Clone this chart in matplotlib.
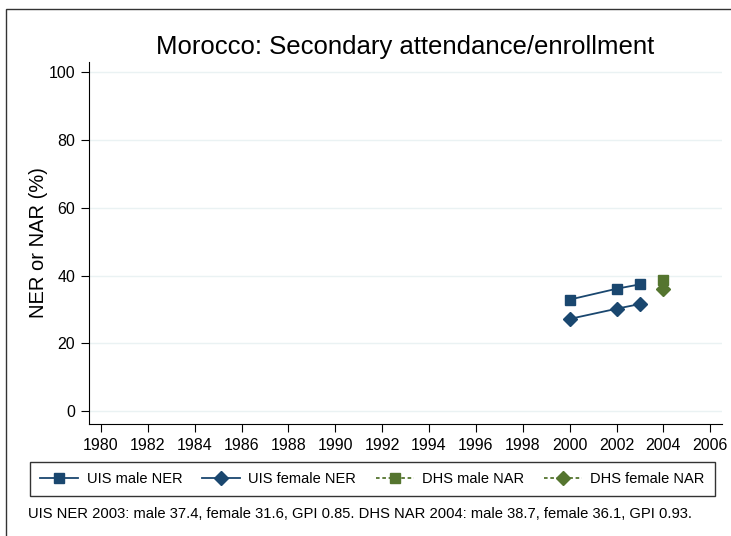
import matplotlib
matplotlib.use("Agg")
import matplotlib.pyplot as plt
from matplotlib.patches import Rectangle

plt.rcParams['font.family'] = ['Liberation Sans', 'DejaVu Sans']

# UIS net enrollment (NER) and DHS net attendance (NAR)
uis_years = [2000, 2002, 2003]
uis_male = [32.9, 36.1, 37.4]
uis_female = [27.2, 30.2, 31.6]
dhs_years = [2004]
dhs_male = [38.7]
dhs_female = [36.1]

x_ticks = list(range(1980, 2007, 2))
y_ticks = [0, 20, 40, 60, 80, 100]

navy = "#1a476f"
green = "#55752f"

fig = plt.figure(figsize=(7.31, 5.36), dpi=100)
ax = fig.add_axes([89 / 731, 1 - 424 / 536, (722 - 89) / 731, (424 - 62) / 536])

ax.plot(uis_years, uis_male, color=navy, marker="s", markersize=7, lw=1.3, label="UIS male NER")
ax.plot(uis_years, uis_female, color=navy, marker="D", markersize=7, lw=1.3, label="UIS female NER")
ax.plot(dhs_years, dhs_male, color=green, marker="s", markersize=7, lw=1.3, ls=(0, (2, 1.5)), label="DHS male NAR")
ax.plot(dhs_years, dhs_female, color=green, marker="D", markersize=7, lw=1.3, ls=(0, (2, 1.5)), label="DHS female NAR")

ax.set_xlim(1979.49, 2006.5)
ax.set_ylim(-3.8, 103)
ax.set_xticks(x_ticks)
ax.set_yticks(y_ticks)
ax.tick_params(labelsize=11.5, length=6, width=0.8, direction="out", pad=4)
ax.grid(axis="y", color="#eaf2f3", lw=1)
ax.set_axisbelow(True)
for s in ["top", "right"]:
    ax.spines[s].set_visible(False)
ax.set_ylabel("NER or NAR (%)", fontsize=14.5, labelpad=0.5)
ax.set_title("Morocco: Secondary attendance/enrollment", fontsize=18.5, pad=6)

fig.legend(loc="lower left", ncol=4, mode="expand",
           bbox_to_anchor=(30 / 731, 1 - 496 / 536, (715 - 30) / 731, 33 / 536),
           fontsize=10.5, frameon=True, fancybox=False, edgecolor="black",
           handlelength=2.6, handletextpad=0.6, borderaxespad=0, columnspacing=1.0,
           borderpad=0.7)

fig.text(28 / 731, 1 - 514 / 536,
         "UIS NER 2003: male 37.4, female 31.6, GPI 0.85. DHS NAR 2004: male 38.7, female 36.1, GPI 0.93.",
         fontsize=10.6, va="center", ha="left")

# outer frame
fig.patches.append(Rectangle((6 / 731, -0.1), 1.0, 1.1 - 9 / 536,
                             transform=fig.transFigure, fill=False, edgecolor="#333333", lw=1))

plt.savefig("out.png", dpi=100)
